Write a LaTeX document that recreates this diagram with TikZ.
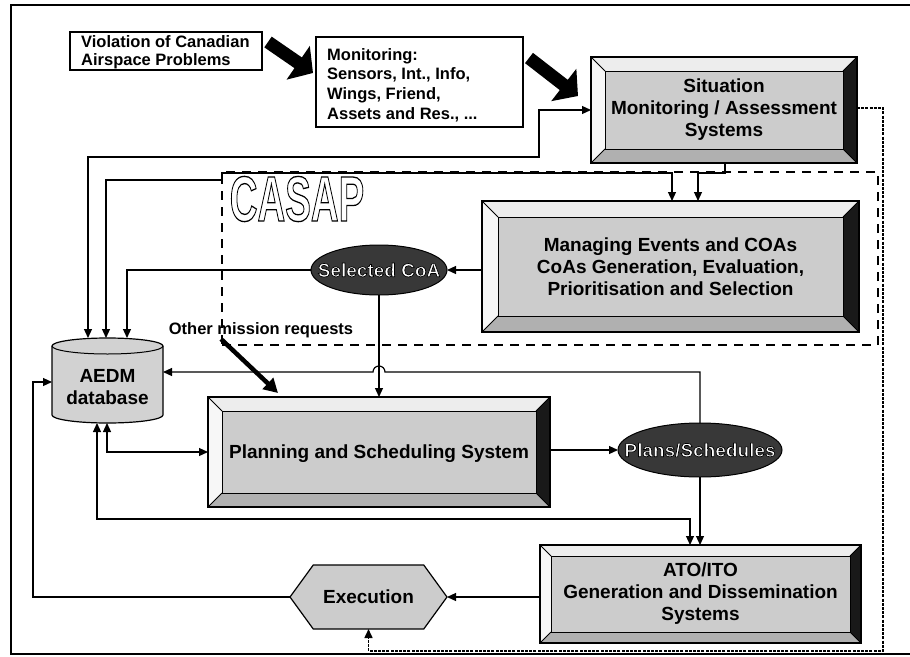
\documentclass[tikz,border=0pt]{standalone}
\usepackage{fontspec}
\setmainfont{Liberation Sans}
\usetikzlibrary{arrows.meta,shapes.geometric,shapes.symbols,calc}

\newcommand\outl[2][0.7]{\special{pdf:literal direct 2 Tr #1 w 0 G}#2\special{pdf:literal direct 0 Tr}}

\newcommand\bevelize[2]{%
 \fill[gray!14] (#1.north west) -- (#1.north east) -- ([xshift=-#2pt,yshift=-#2pt]#1.north east) -- ([xshift=#2pt,yshift=-#2pt]#1.north west) -- cycle;
 \fill[gray!6] (#1.north west) -- ([xshift=#2pt,yshift=-#2pt]#1.north west) -- ([xshift=#2pt,yshift=#2pt]#1.south west) -- (#1.south west) -- cycle;
 \fill[black!90] (#1.north east) -- (#1.south east) -- ([xshift=-#2pt,yshift=#2pt]#1.south east) -- ([xshift=-#2pt,yshift=-#2pt]#1.north east) -- cycle;
 \fill[gray!62] (#1.south west) -- (#1.south east) -- ([xshift=-#2pt,yshift=#2pt]#1.south east) -- ([xshift=#2pt,yshift=#2pt]#1.south west) -- cycle;
 \draw[line width=0.9pt] ([xshift=#2pt,yshift=-#2pt]#1.north west) rectangle ([xshift=-#2pt,yshift=#2pt]#1.south east);
 \draw[line width=0.9pt] (#1.north west) -- ([xshift=#2pt,yshift=-#2pt]#1.north west)
   (#1.north east) -- ([xshift=-#2pt,yshift=-#2pt]#1.north east)
   (#1.south west) -- ([xshift=#2pt,yshift=#2pt]#1.south west)
   (#1.south east) -- ([xshift=-#2pt,yshift=#2pt]#1.south east);
 \draw[line width=1.3pt] (#1.north west) rectangle (#1.south east);
}

\tikzset{
 lbl/.style={font={\bfseries\fontsize{16.5}{19}\selectfont}, align=left, inner sep=0pt},
 big/.style={font={\bfseries\fontsize{19}{22}\selectfont}, align=center, inner sep=0pt},
 plainbox/.style={draw, line width=1.3pt, fill=white, inner sep=0pt, outer sep=0pt},
 bframe/.style={draw, line width=1.3pt, fill=gray!40, inner sep=0pt, outer sep=0pt},
 conn/.style={line width=1.2pt, -{Triangle[length=9pt,width=8pt]}},
 dconn/.style={line width=1.2pt, {Triangle[length=9pt,width=8pt]}-{Triangle[length=9pt,width=8pt]}},
 blockarrow/.style={line width=13pt, -{Triangle[length=18pt,width=40pt]}},
 oval/.style={ellipse, draw, line width=1pt, fill=black!78, inner sep=0pt, outer sep=0pt},
 casapbox/.style={draw, line width=2.8pt, dash pattern=on 9pt off 7pt, inner sep=0pt, outer sep=0pt},
 dotline/.style={line width=1.6pt, dash pattern=on 3pt off 1.2pt, -{Triangle[length=9pt,width=8pt]}},
}

\begin{document}
\begin{tikzpicture}[x=1pt,y=-1pt]
\useasboundingbox (0,0) rectangle (910,656);
\fill[white] (0,0) rectangle (910,656);

% outer frame
\draw[line width=1.4pt] (910,5) -- (11,5) -- (11,654) -- (910,654);

% CASAP dashed region
\node[casapbox, minimum width=656pt, minimum height=173pt] (casap) at (550,258.5) {};

% top boxes
\node[plainbox, minimum width=192pt, minimum height=38pt] (viol) at (166,51) {};
\node[lbl, font={\bfseries\fontsize{16.5}{18}\selectfont}, anchor=north west] (viol-t) at (81,35) {Violation of Canadian\\Airspace Problems};

\node[plainbox, minimum width=207pt, minimum height=90pt] (mon) at (419.5,82) {};
\node[lbl, font={\bfseries\fontsize{16.5}{19.7}\selectfont}, anchor=north west] (mon-t) at (327,48) {Monitoring:\\Sensors, Int., Info,\\Wings, Friend,\\Assets and Res., ...};

% bevel boxes
\node[bframe, minimum width=266pt, minimum height=106pt] (sit) at (724,110) {};
\bevelize{sit}{14}
\node[big] (sit-t) at (sit) {Situation\\Monitoring / Assessment\\Systems};

\node[bframe, minimum width=377pt, minimum height=131pt] (man) at (670.5,266.5) {};
\bevelize{man}{16}
\node[big] (man-t) at (670.5,267) {Managing Events and COAs\\CoAs Generation, Evaluation,\\Prioritisation and Selection};

\node[bframe, minimum width=342pt, minimum height=110pt] (plan) at (379,452) {};
\bevelize{plan}{14}
\node[big] (plan-t) at (379,454) {Planning and Scheduling System};

\node[bframe, minimum width=321pt, minimum height=98pt] (ato) at (700.5,594) {};
\bevelize{ato}{11}
\node[big] (ato-t) at (ato) {ATO/ITO\\Generation and Dissemination\\Systems};

% ellipses
\node[oval, minimum width=136pt, minimum height=50pt] (selcoa) at (379,270) {};
\node[big, text=white] (selcoa-t) at (selcoa) {\outl{Selected CoA}};

\node[oval, minimum width=164pt, minimum height=54pt] (plans) at (700,450) {};
\node[big, text=white] (plans-t) at (plans) {\outl{Plans/Schedules}};

% execution hexagon
\node[signal, signal to=west and east, signal pointer angle=108, draw, line width=1.2pt, fill=gray!40, minimum width=157pt, minimum height=64pt, inner sep=0pt, outer sep=0pt] (exec) at (368.5,597) {};
\node[big] (exec-t) at (exec) {Execution};

% AEDM database cylinder
\node[minimum width=111pt, minimum height=85pt, inner sep=0pt, outer sep=0pt] (aedm) at (107.5,380.5) {};
\filldraw[fill=gray!35, line width=1.2pt] (52,346) -- (52,415) arc[start angle=180,end angle=360,x radius=55.5pt,y radius=8pt] -- (163,346) arc[start angle=0,end angle=180,x radius=55.5pt,y radius=8pt] -- cycle;
\draw[line width=1pt] (52,346) arc[start angle=180,end angle=360,x radius=55.5pt,y radius=8pt];
\node[big] (aedm-t) at (107.5,387) {AEDM\\database};

% CASAP label
\node[inner sep=0pt, text=white] (casap-t) at (297,199) {\fontsize{64}{64}\selectfont\bfseries\scalebox{0.6}[1]{\outl[1.3]{CASAP}}};

% other mission requests
\node[lbl] (omr-t) at (261,330) {Other mission requests};
\coordinate (omr) at (221,339);

% block arrows
\draw[blockarrow] ([xshift=6pt,yshift=9pt]viol.east) -- ([xshift=-3pt,yshift=9pt]mon.west);
\draw[blockarrow] ([xshift=6pt,yshift=24pt]mon.east) -- ([xshift=-13pt,yshift=14pt]sit.west);
\draw[line width=4.5pt, -{Triangle[length=14pt,width=15pt]}] (omr) -- ([xshift=70pt,yshift=4pt]plan.north west);

% connectors
\draw[dconn] ([xshift=-19.5pt]aedm.north) |- (539,157) |- (sit.west);
\draw[dconn] ([xshift=-1.5pt]aedm.north) |- (222,180) -- (222,173) -| ([xshift=1.5pt]man.north);
\draw[conn] (selcoa.west) -| ([xshift=19.5pt]aedm.north);
\draw[conn] ([xshift=1pt]sit.south) -- ++(0,10) -| ([xshift=27.5pt]man.north);
\draw[conn] (man.west |- selcoa) -- (selcoa.east);
\draw[conn] (selcoa.south) -- (selcoa.south |- plan.north);
\draw[conn] (plans.north) -- (700,372) -- (385,372) arc[start angle=0,end angle=180,radius=6pt] -- ([yshift=8.5pt]aedm.east);
\draw[conn] (plan.east |- plans) -- (plans.west);
\draw[conn] (plans.south) -- (plans.south |- ato.north);
\draw[dconn] ([xshift=-0.5pt]aedm.south) |- (plan.west);
\draw[dconn] ([xshift=-10.5pt]aedm.south) -- ++(0,96) -| ([xshift=-10.5pt]ato.north);
\draw[conn] (ato.west |- exec.east) -- (exec.east);
\draw[conn] (exec.west) -- (33,597) |- ([yshift=-1.5pt]aedm.west);
\draw[dotline] ([yshift=2pt]sit.east) -- (883,108) -- (883,651) -| (exec.south);
\end{tikzpicture}
\end{document}
